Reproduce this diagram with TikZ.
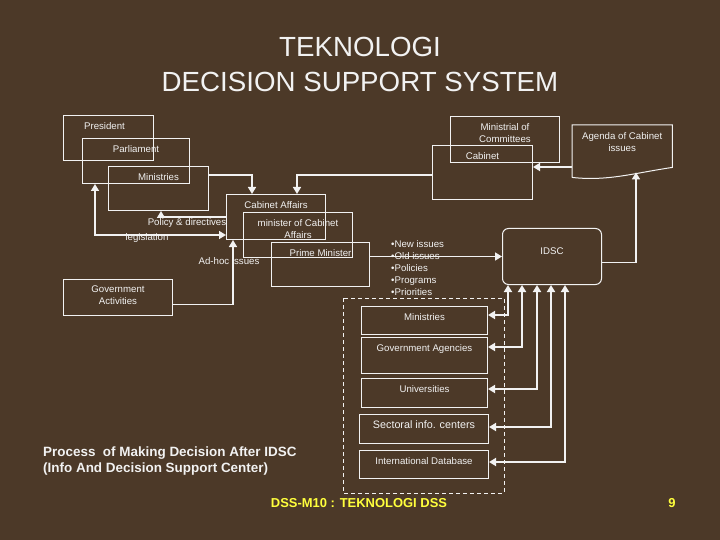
\documentclass[tikz,border=0pt]{standalone}
\usepackage{fontspec}
\setmainfont{Liberation Sans}
\usetikzlibrary{arrows.meta}

\definecolor{wood}{RGB}{76,57,40}
\definecolor{chalk}{RGB}{242,242,242}
\definecolor{slideyellow}{RGB}{255,255,60}

\tikzset{
  box/.style 2 args={draw=chalk, line width=1bp, minimum width=#1, minimum height=#2, inner sep=0pt, anchor=north west},
  txt/.style={text=chalk, font=\fontsize{9.7}{12}\selectfont, inner sep=0pt, align=center},
  inlbl/.style={txt, anchor=north, yshift=-7bp},
  arr/.style={draw=chalk, line width=1.6bp, -{Triangle[width=8bp,length=7bp]}},
  rarr/.style={arr, {Triangle[width=8bp,length=7bp]}-},
  darr/.style={arr, {Triangle[width=8bp,length=7bp]}-{Triangle[width=8bp,length=7bp]}},
}

\begin{document}
\begin{tikzpicture}[x=1bp,y=-1bp]
  \fill[wood] (0,0) rectangle (720,540);
  \useasboundingbox (0,0) rectangle (720,540);

  % title
  \node[text=chalk, font=\fontsize{27.8}{35}\selectfont, align=center, inner sep=0pt] (title) at (360,64.5) {TEKNOLOGI\\DECISION SUPPORT SYSTEM};

  % upper boxes
  \node[box={90bp}{45bp}, label={[inlbl, xshift=-4bp]north:President}] (pres) at (63,115) {};
  \node[box={107bp}{45bp}, label={[inlbl]north:Parliament}] (parl) at (82,138) {};
  \node[box={100bp}{44bp}, label={[inlbl]north:Ministries}] (mintop) at (108,166) {};
  \node[box={99bp}{45bp}, label={[inlbl]north:Cabinet Affairs}] (cabaff) at (226,194) {};
  \node[box={109bp}{45bp}, label={[inlbl]north:minister of Cabinet\\Affairs}] (mincab) at (243,212) {};
  \node[box={98bp}{44bp}, label={[inlbl]north:Prime Minister}] (pm) at (271,242) {};
  \node[box={109bp}{36bp}, label={[inlbl]north:Government\\Activities}] (govact) at (63,279) {};
  \node[box={109bp}{46bp}, label={[inlbl]north:Ministrial of\\Committees}] (mincom) at (450,116) {};
  \node[box={100bp}{54bp}, label={[inlbl]north:Cabinet}] (cab) at (432,145) {};

  % agenda (document shape)
  \node[minimum width=100bp, minimum height=52bp, inner sep=0pt, anchor=north west, label={[inlbl]north:Agenda of Cabinet\\issues}] (agenda) at (572,125) {};
  \draw[chalk, line width=1bp] (agenda.south west) -- (agenda.north west) -- (agenda.north east) -- ([yshift=10bp]agenda.south east)
    .. controls ([xshift=-40bp,yshift=4bp]agenda.south east) and ([xshift=35bp,yshift=-4bp]agenda.south west) .. (agenda.south west);

  \node[box={99bp}{56bp}, rounded corners=6bp, label={[inlbl, yshift=-13bp]north:IDSC}] (idsc) at (502,228) {};

  % sources
  \draw[chalk, line width=1bp, dash pattern=on 4bp off 3bp] (343,298) rectangle (504,493);
  \foreach \nm/\ttl/\yy/\hh in {lmin/Ministries/306/28, gag/Government Agencies/337/36, uni/Universities/378/29}
    \node[box={126bp}{\hh bp}, label={[inlbl]north:\ttl}] (\nm) at (361,\yy) {};
  \node[box={129bp}{29bp}, label={[inlbl, font=\fontsize{10.8}{13}\selectfont]north:Sectoral info. centers}] (sec) at (359,414) {};
  \node[box={129bp}{28bp}, label={[inlbl]north:International Database}] (idb) at (359,450) {};

  \foreach \bx/\xx/\yy in {lmin/508/315, gag/522/347, uni/537/389, sec/551/427, idb/565/462}
    \draw[darr, line width=1.8bp] (idsc.south -| \xx,0) |- (\bx.east |- 0,\yy);

  % connectors
  \draw[arr] ([yshift=-9bp]mintop.north east) -| ([xshift=26bp]cabaff.north west);
  \draw[arr] ([yshift=-30bp]cab.north west) -| ([xshift=71bp]cabaff.north west);
  \coordinate (agl) at ([yshift=-42bp]agenda.north west);
  \draw[arr, line width=2bp] (agl) -- (agl -| cab.east);
  \draw[arr] ([yshift=-6bp]idsc.east) -| ([xshift=64bp,yshift=5bp]agenda.south west);
  \draw[arr] (idsc.west -| pm.east) -- (idsc.west);
  \draw[darr] ([xshift=13bp]parl.south west) |- ([yshift=5bp]cabaff.south west);
  \draw[rarr] ([xshift=53bp]mintop.south west) |- ([yshift=-23bp]cabaff.north west);
  \draw[arr] ([yshift=-7bp]govact.east) -| ([xshift=7bp]cabaff.south west);

  \node[txt] (policy) at (187,223) {Policy \& directives};
  \node[txt] (legis) at (147,238) {legislation};
  \node[txt] (adhoc) at (229,261) {Ad-hoc issues};
  \node[txt, align=left, anchor=north west] (issues) at (391,240.5)
    {\textbullet New issues\\\textbullet Old issues\\\textbullet Policies\\\textbullet Programs\\\textbullet Priorities};

  % captions
  \node[text=chalk, font=\bfseries\fontsize{13.5}{16}\selectfont, align=left, anchor=west, inner sep=0pt] (caption) at (43,461)
    {Process\ \ of Making Decision After IDSC\\(Info And Decision Support Center)};
  \node[text=slideyellow, font=\bfseries\fontsize{13}{15}\selectfont, inner sep=0pt] (footer) at (359,503) {DSS-M10 : TEKNOLOGI DSS};
  \node[text=slideyellow, font=\bfseries\fontsize{13}{15}\selectfont, inner sep=0pt] (pgno) at (672,503) {9};
\end{tikzpicture}
\end{document}
